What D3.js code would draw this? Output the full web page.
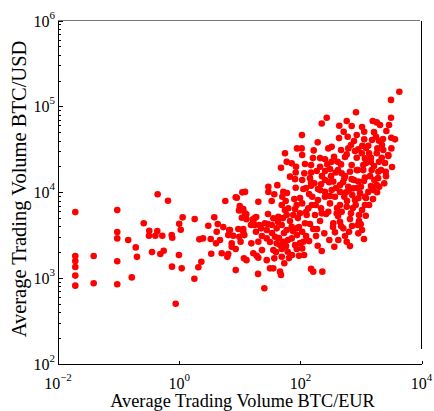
<!DOCTYPE html>
<html>
<head>
<meta charset="utf-8">
<script src="https://cdn.jsdelivr.net/npm/d3@7"></script>
<style>
  body { margin: 0; background: #fff; }
  text { font-family: "Liberation Serif", "Times New Roman", serif; fill: #000; }
</style>
</head>
<body>
<div id="chart"></div>
<script>
// average trading volume per market, BTC/EUR (x) against BTC/USD (y)
var eurVolume = [
  0.0193, 0.0193, 0.0193, 0.0193, 0.0193, 0.0193, 0.0388, 0.0388, 0.095, 0.095,
  0.095, 0.095, 0.095, 0.144, 0.192, 0.201, 0.165, 0.26, 0.321, 0.317,
  0.404, 0.435, 0.526, 0.356, 0.488, 0.555, 0.441, 0.653, 0.752, 0.769,
  0.76, 0.875, 1.78, 0.99, 1.1, 1.14, 1.8, 2.07, 2.32, 2.15,
  2.47, 3.38, 3.02, 3.79, 3.31, 4.05, 4.32, 4.16, 1.0, 1.06,
  5.34, 4.71, 5.03, 6.22, 6.45, 5.76, 8.56, 11, 12.2, 9.97,
  9.7, 11.4, 10.8, 12.8, 12.9, 16.5, 18.7, 20.2, 17.4, 18.5,
  21, 6.7, 6.45, 7.8, 9.45, 11.4, 9.8, 7.35, 7.35, 8.56,
  10.3, 11.9, 15.5, 16.7, 11.7, 12.9, 8.56, 19, 20, 3130,
  827, 272, 225, 581, 702, 438, 1560, 1820, 2060, 3130,
  2620, 1130, 850, 518, 603, 106, 3160, 3640, 1770, 1130,
  1980, 193, 683, 1050, 1320, 1860, 87.9, 105, 166, 328,
  289, 617, 903, 55.7, 107, 359, 581, 1030, 1360, 1820,
  2820, 2330, 3170, 255, 328, 412, 545, 850, 1160, 1460,
  2200, 2820, 59.4, 71.8, 47.8, 150, 211, 278, 468, 702,
  1090, 1450, 1980, 84.7, 83.7, 116, 150, 186, 255, 308,
  382, 480, 658, 850, 1090, 1500, 1930, 2560, 67.4, 81.5,
  107, 150, 219, 170, 255, 349, 530, 702, 903, 1160,
  1660, 1820, 2420, 29.6, 41.6, 29.6, 52.2, 83.7, 112, 150,
  211, 255, 328, 450, 617, 746, 1000, 1320, 1600, 8.93,
  37.1, 33.6, 50.3, 57.2, 79.3, 157, 255, 372, 530, 718,
  903, 1160, 49.2, 63.2, 86.9, 107, 135, 179, 219, 308,
  450, 581, 818, 1160, 10.5, 12.2, 17.8, 16.7, 26, 35.7,
  43.2, 59.4, 76.3, 98.5, 127, 174, 225, 289, 397, 480,
  683, 927, 1200, 6.88, 11.4, 15.3, 22.4, 27.8, 33.6, 40.6,
  49.2, 59.4, 71.8, 86.9, 119, 107, 163, 211, 248, 349,
  450, 510, 635, 882, 903, 372, 300, 422, 581, 363,
  20.2, 27.8, 38, 40.6, 52.2, 71.8, 81.5, 112, 139, 193,
  225, 35.7, 49.2, 61.7, 86.9, 107, 20.2, 27.8, 37.1, 49.2,
  54.2, 94.8, 31.5, 35.7, 46.1, 47.8, 150, 163, 230, 25.4,
  990, 2000, 4290,
  42.7, 53.6, 67.4, 62.4, 87.9, 46.1, 72.7, 31.5, 98.5, 124,
  144, 181, 29.2, 23.2, 55.7, 450, 566, 796, 1040, 658,
  417, 308, 859, 1120, 1410, 1640, 1210, 891, 545, 402,
  711, 545, 1040, 1360, 1580, 1910, 2490, 2220, 1520, 796,
  468, 211, 144, 195, 265, 345, 98.5, 124, 91, 60.1,
  34, 44.3, 57.9, 75.4, 94.8, 115, 64.8, 39.6, 51.7, 81.5,
  29.2, 23.2, 124, 155, 188,
  417, 505, 635, 766, 963, 1210, 1460, 1840, 2140, 2590,
  588, 736, 927, 1120, 658, 468, 387, 320, 1210, 1640,
  2310, 2900, 1040, 766, 3250, 434,
  119, 161, 227, 297, 195, 139
];

var usdVolume = [
  5870, 1810, 1580, 1350, 1070, 817, 1810, 870, 6200, 3440,
  2900, 1570, 850, 2780, 2280, 1770, 1020, 4350, 3560, 3110,
  3110, 3530, 3110, 2010, 1910, 2080, 9460, 7960, 3170, 2950,
  1360, 503, 984, 1860, 1300, 5100, 4870, 1340, 1550, 2830,
  2900, 1920, 4070, 5100, 2850, 2540, 4270, 3470, 4300, 3660,
  3930, 2780, 1950, 1770, 1910, 7900, 8740, 9970, 10100, 6900,
  6150, 6370, 5040, 5530, 4840, 4840, 5140, 7750, 4150, 3470,
  4150, 3630, 3170, 3110, 3730, 3730, 3030, 2540, 2320, 2180,
  2650, 3170, 2540, 1950, 1700, 1620, 1240, 1820, 1120, 119000,
  85300, 73700, 63300, 67500, 59000, 59400, 67500, 65100, 60600, 73700,
  51600, 50600, 46300, 50600, 44300, 46300, 43100, 41300, 44300, 41300,
  39800, 38100, 35400, 34800, 34800, 32400, 32400, 32400, 30700, 33900,
  32400, 32400, 31600, 28400, 27100, 25900, 27600, 28400, 28400, 28400,
  27100, 31000, 32400, 24200, 22600, 22600, 25700, 25200, 24800, 25200,
  25200, 26400, 22600, 21700, 19300, 20700, 19800, 21100, 21100, 20700,
  20700, 22600, 22600, 19800, 17000, 16600, 17000, 17700, 17700, 18600,
  17000, 16600, 17300, 18100, 18100, 18100, 17300, 17300, 15200, 14200,
  13900, 13000, 12400, 12700, 13900, 13300, 14500, 14200, 13300, 14800,
  13900, 12100, 12700, 11600, 12100, 10100, 10100, 11300, 10900, 11900,
  10600, 10100, 10600, 10100, 11600, 11100, 11600, 10100, 10600, 8630,
  9460, 7900, 8870, 7900, 8320, 8870, 8870, 8870, 8870, 9270,
  8500, 8870, 7100, 6490, 7100, 7420, 6490, 7100, 6490, 7420,
  7100, 6780, 7100, 7100, 6200, 5680, 5040, 4530, 4350, 4970,
  5180, 5430, 5430, 5680, 5430, 5430, 5680, 5930, 5680, 5930,
  5680, 5430, 5320, 3630, 3470, 4150, 3800, 3630, 4150, 3800,
  4150, 3630, 3960, 3800, 4350, 3470, 3730, 4620, 3320, 4350,
  4530, 3800, 3470, 4150, 3320, 3410, 2780, 2780, 2650, 2320,
  2650, 2900, 3030, 2540, 2650, 2900, 2430, 2650, 2700, 2380,
  2070, 2120, 2180, 2030, 2180, 2220, 1730, 1620, 1700, 1770,
  1490, 1820, 1300, 1300, 1190, 1090, 1280, 1190, 1190, 761,
  4230, 11600, 148000,
  4500, 3350, 4620, 2780, 3170, 2430, 1860, 2630, 2560, 3090,
  4270, 3090, 5580, 2120, 6200, 12100, 10000, 8120, 6200, 4870,
  5280, 9040, 11200, 13500, 15400, 20200, 21900, 18100, 15400, 6550,
  4040, 3090, 3630, 7100, 8320, 14600, 21900, 35400, 40600, 30200,
  31000, 25000, 14600, 8120, 5580, 3930, 8580, 11200, 5000, 9790,
  3350, 2930, 2360, 3530, 3930, 1860, 1710, 2010, 5000, 6370,
  4270, 3090, 5870, 7100, 3730,
  18100, 13100, 10600, 13900, 9790, 8580, 11800, 10000, 18100, 15400,
  7900, 6550, 4620, 2850, 2360, 4040, 11200, 15400, 32700, 50100,
  41600, 60600, 57400, 39500, 19700, 42700,
  21300, 25000, 15400, 13100, 10900, 9520
];

// decade ticks and which ones get a label
var xTickExps = [-2, 0, 2, 4];
var yTickExps = [2, 3, 4, 5, 6];

var xTitle = "Average Trading Volume BTC/EUR";
var yTitle = "Average Trading Volume BTC/USD";

var width = 434, height = 411;
var margin = {top: 20.5, right: 12.4, bottom: 47, left: 58};

var svg = d3.select("#chart")
    .append("svg")
        .attr("width", width)
        .attr("height", height);

// log scales
var x = d3.scaleLog()
    .domain([1e-2, 1e4])
    .range([margin.left, width - margin.right]);

var y = d3.scaleLog()
    .domain([1e2, 1e6])
    .range([height - margin.bottom, margin.top]);

// minor ticks on the y axis (2..9 of every decade)
var yMinor = [];
for (var e = 2; e < 6; e++) {
    for (var m = 2; m <= 9; m++) yMinor.push(m * Math.pow(10, e));
}

// the dots
svg.append("g")
    .selectAll("circle")
    .data(eurVolume.map(function(d, i) { return {x: d, y: usdVolume[i]}; }))
    .enter()
    .append("circle")
        .attr("cx", function(d) { return x(d.x); })
        .attr("cy", function(d) { return y(d.y); })
        .attr("r", 3.3)
        .attr("fill", "#ff0000");

// frame: top grey, right black (stops short of the bottom like the original)
svg.append("line")
    .attr("x1", margin.left).attr("x2", width - margin.right - 1.5)
    .attr("y1", margin.top).attr("y2", margin.top)
    .attr("stroke", "#777").attr("shape-rendering", "crispEdges");
svg.append("line")
    .attr("x1", width - margin.right).attr("x2", width - margin.right)
    .attr("y1", margin.top).attr("y2", 349)
    .attr("stroke", "#000").attr("shape-rendering", "crispEdges");

// bottom axis, ticks pointing inwards
svg.append("g")
    .attr("transform", `translate(0,${height - margin.bottom})`)
    .call(d3.axisBottom(x)
        .tickValues(xTickExps.map(function(p) { return Math.pow(10, p); }))
        .tickSize(-3.5).tickSizeOuter(0).tickFormat(""))
    .call(g => g.selectAll("line, path").attr("stroke", "#000").attr("shape-rendering", "crispEdges"));

// left axis, major and minor ticks inwards
svg.append("g")
    .attr("transform", `translate(${margin.left},0)`)
    .call(d3.axisLeft(y)
        .tickValues(yMinor)
        .tickSize(-3).tickSizeOuter(0).tickFormat(""))
    .call(g => g.select(".domain").remove())
    .call(g => g.selectAll("line").attr("stroke", "#000").attr("shape-rendering", "crispEdges"));

svg.append("g")
    .attr("transform", `translate(${margin.left},0)`)
    .call(d3.axisLeft(y)
        .tickValues(yTickExps.map(function(p) { return Math.pow(10, p); }))
        .tickSize(-5).tickSizeOuter(0).tickFormat(""))
    .call(g => g.selectAll("line, path").attr("stroke", "#000").attr("shape-rendering", "crispEdges"));

// x tick labels as 10 with a superscript
var xLab = svg.append("g")
    .selectAll("text")
    .data(xTickExps)
    .enter()
    .append("text")
        .attr("x", function(p) { return x(Math.pow(10, p)); })
        .attr("y", 389)
        .attr("text-anchor", "middle")
        .style("font-size", "16px");
xLab.append("tspan").text("10");
xLab.append("tspan")
    .attr("dy", -8)
    .style("font-size", "11px")
    .text(function(p) { return p < 0 ? "\u2212" + (-p) : p; });

// y tick labels
var yLab = svg.append("g")
    .selectAll("text")
    .data(yTickExps)
    .enter()
    .append("text")
        .attr("x", 55)
        .attr("y", function(p) { return y(Math.pow(10, p)) + 6; })
        .attr("text-anchor", "end")
        .style("font-size", "16px");
yLab.append("tspan").text("10");
yLab.append("tspan")
    .attr("dy", -8)
    .style("font-size", "11px")
    .text(function(p) { return p; });

// axis titles
svg.append("text")
    .attr("x", 242.5)
    .attr("y", 407)
    .attr("text-anchor", "middle")
    .style("font-size", "18.3px")
    .text(xTitle);

svg.append("text")
    .attr("transform", "translate(25.5,189) rotate(-90)")
    .attr("text-anchor", "middle")
    .style("font-size", "20.5px")
    .text(yTitle);
</script>
</body>
</html>
